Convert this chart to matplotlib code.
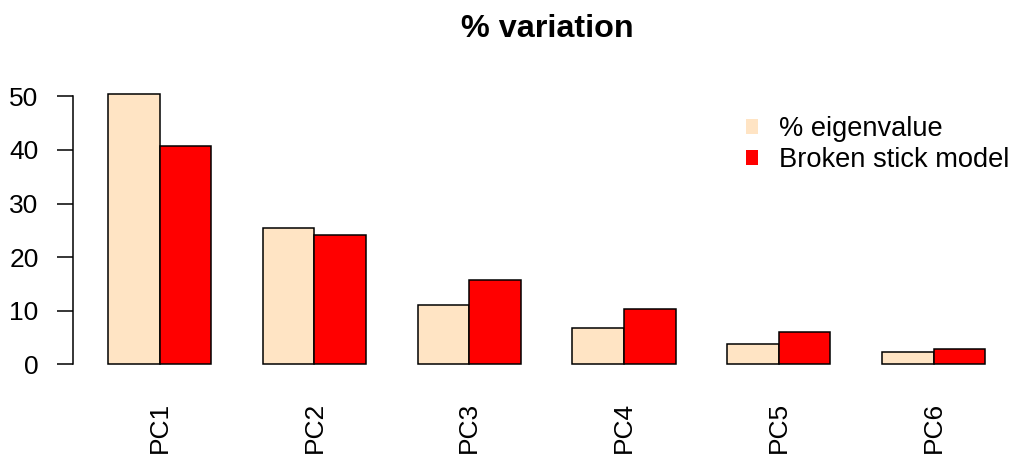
import numpy as np
import matplotlib.pyplot as plt
from matplotlib.patches import Patch

plt.rcParams['font.family'] = ['Liberation Sans', 'DejaVu Sans']

# data
components = ["PC1", "PC2", "PC3", "PC4", "PC5", "PC6"]
eigen_pct = [50.5, 25.5, 11.0, 6.7, 3.8, 2.2]
broken_stick = [40.8, 24.2, 15.8, 10.3, 6.1, 2.8]
series_names = ["% eigenvalue", "Broken stick model"]
series_colors = ["#FFE4C4", "#FF0000"]

W, H = 1011, 454
fig = plt.figure(figsize=(W / 100, H / 100), dpi=100)

# plot region in pixels (R-style barplot layout)
unit = 51.6          # px per bar unit
x0_px = 56.4         # px of x=0
left_px, right_px = 72.7, 1011
bot_px, top_px = 375.1, 83.0
ax = fig.add_axes([left_px / W, 1 - bot_px / H,
                   (right_px - left_px) / W, (bot_px - top_px) / H])
ax.set_xlim((left_px - x0_px) / unit, (right_px - x0_px) / unit)
ax.set_ylim(-2.02, 52.5)

n = len(components)
starts = np.arange(n) * 3 + 1
ax.bar(starts + 0.5, eigen_pct, width=1, color=series_colors[0],
       edgecolor="black", linewidth=1.1)
ax.bar(starts + 1.5, broken_stick, width=1, color=series_colors[1],
       edgecolor="black", linewidth=1.1)

for s in ["top", "right", "bottom"]:
    ax.spines[s].set_visible(False)
ax.spines["left"].set_bounds(0, 50)
ax.spines["left"].set_linewidth(1.1)
ax.set_yticks([0, 10, 20, 30, 40, 50])
ax.tick_params(axis="y", length=11.5, width=1.1, labelsize=19, pad=13)

ax.set_xticks(starts + 1)
ax.set_xticklabels(components, rotation=90, fontsize=19)
ax.tick_params(axis="x", length=0, pad=19)

fig.text(0.5 * (left_px + 1022) / W, 1 - 29 / H, "% variation",
         ha="center", va="center", fontsize=23.3, fontweight="bold")

handles = [Patch(facecolor=c, edgecolor="none") for c in series_colors]
fig.legend(handles, series_names, loc="upper left",
           bbox_to_anchor=(746 / W, 1 - 116 / H), frameon=False,
           fontsize=19.6, handlelength=0.45, handleheight=0.45,
           handletextpad=0.75, labelspacing=0.2, borderpad=0,
           borderaxespad=0)

fig.savefig("out.png", dpi=100)
